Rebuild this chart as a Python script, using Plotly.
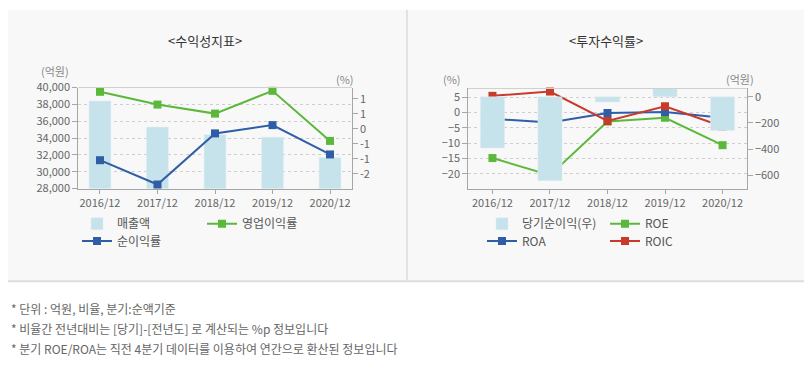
import plotly.graph_objects as go

# The page body has an 8px margin, so the figure is 8px smaller each way
# and every reference pixel position is shifted by 8.
OFF = 8
W, H = 812 - OFF, 381 - OFF
FONT = "Noto Sans CJK KR"

# ---------------- data ----------------
years = ["2016/12", "2017/12", "2018/12", "2019/12", "2020/12"]

# left chart: 수익성지표
sales = [38400, 35300, 34400, 34100, 31700]          # 매출액 (억원)
op_margin = [1.48, 0.97, 0.61, 1.52, -0.48]          # 영업이익률 (%)
net_margin = [-1.25, -2.22, -0.18, 0.15, -1.02]      # 순이익률 (%)

left_y_ticks = [28000, 30000, 32000, 34000, 36000, 38000, 40000]
left_y2_ticks = [1.2, 0.6, 0, -0.6, -1.2, -1.8]
left_y2_text = ["1", "1", "0", "-1", "-1", "-2"]

# right chart: 투자수익률
net_income = [-392, -641, -40, 90, -258]             # 당기순이익(우) (억원)
roe = [-14.9, -20.5, -3.0, -1.75, -10.7]
roa = [-2.1, -3.3, -0.2, 0.1, -1.75]
roic = [5.4, 6.8, -2.8, 2.0, -4.6]

right_y_ticks = [-20, -15, -10, -5, 0, 5]
right_y2_ticks = [0, -200, -400, -600]

notes = [
    "* 단위 : 억원, 비율, 분기:순액기준",
    "* 비율간 전년대비는 [당기]-[전년도] 로 계산되는 %p 정보입니다",
    "* 분기 ROE/ROA는 직전 4분기 데이터를 이용하여 연간으로 환산된 정보입니다",
]

# ---------------- styles ----------------
BAR = "#c6e2ea"
GREEN = "#5cb83a"
BLUE = "#2f5ea6"
RED = "#c83a2a"
TICK = "#666666"
AX = "#a6a6a6"


def px(x):
    return (x - OFF) / W


def py(y):
    return 1 - (y - OFF) / H


fig = go.Figure()

# left chart traces
fig.add_trace(go.Bar(x=years, y=sales, marker_color=BAR, width=0.38, name="매출액",
                     xaxis="x", yaxis="y", legend="legend"))
fig.add_trace(go.Scatter(x=years, y=op_margin, mode="lines+markers", name="영업이익률",
                         line=dict(color=GREEN, width=2), marker=dict(symbol="square", size=8, color=GREEN),
                         xaxis="x", yaxis="y2", legend="legend2", cliponaxis=False))
fig.add_trace(go.Scatter(x=years, y=net_margin, mode="lines+markers", name="순이익률",
                         line=dict(color=BLUE, width=2), marker=dict(symbol="square", size=8, color=BLUE),
                         xaxis="x", yaxis="y2", legend="legend3", cliponaxis=False))

# right chart traces
fig.add_trace(go.Bar(x=years, y=net_income, marker_color=BAR, width=0.42, name="당기순이익(우)",
                     xaxis="x2", yaxis="y4", legend="legend4"))
fig.add_trace(go.Scatter(x=years, y=roe, mode="lines+markers", name="ROE",
                         line=dict(color=GREEN, width=2), marker=dict(symbol="square", size=8, color=GREEN),
                         xaxis="x2", yaxis="y3", legend="legend5", cliponaxis=False))
fig.add_trace(go.Scatter(x=years, y=roa, mode="lines+markers", name="ROA",
                         line=dict(color=BLUE, width=2), marker=dict(symbol="square", size=8, color=BLUE),
                         xaxis="x2", yaxis="y3", legend="legend6", cliponaxis=False))
fig.add_trace(go.Scatter(x=years, y=roic, mode="lines+markers", name="ROIC",
                         line=dict(color=RED, width=2), marker=dict(symbol="square", size=8, color=RED),
                         xaxis="x2", yaxis="y3", legend="legend7", cliponaxis=False))

tickfont = dict(family=FONT, size=11, color=TICK)

xcommon = dict(type="category", showline=True, linecolor=AX, linewidth=1, ticks="outside",
               ticklen=4, tickcolor=AX, tickfont=tickfont, showgrid=False, zeroline=False,
               fixedrange=True)

ycommon = dict(showline=True, linecolor=AX, linewidth=1, ticks="outside", ticklen=5,
               tickcolor=AX, tickfont=tickfont, zeroline=False, fixedrange=True)

L_DOM_X = [px(78.3), px(351.7)]
L_DOM_Y = [py(187.2), py(81.7)]
R_DOM_X = [px(468.3), px(746.7)]
R_DOM_Y = [py(187.7), py(82.7)]

legend_base = dict(bgcolor="rgba(0,0,0,0)", borderwidth=0, font=dict(family=FONT, size=12, color="#555555"),
                   xanchor="left", yanchor="middle", orientation="h", itemclick=False, itemdoubleclick=False)


def leg(text_x, y):
    d = dict(legend_base)
    d.update(x=px(text_x - 40), y=py(y))
    return d


fig.update_layout(
    width=W, height=H, autosize=False,
    margin=dict(l=0, r=0, t=0, b=0),
    paper_bgcolor="white", plot_bgcolor="white",
    barmode="overlay",
    xaxis=dict(xcommon, domain=L_DOM_X, anchor="y", range=[-0.377, 4.377]),
    yaxis=dict(ycommon, domain=L_DOM_Y, anchor="x", range=[28000, 40000], tickvals=left_y_ticks,
               tickformat=",", showgrid=True, gridcolor="#cfcfcf", griddash="dot", gridwidth=1),
    yaxis2=dict(ycommon, overlaying="y", side="right", anchor="x", range=[-2.38, 1.65],
                tickvals=left_y2_ticks, ticktext=left_y2_text, showgrid=False),
    xaxis2=dict(xcommon, domain=R_DOM_X, anchor="y3", range=[-0.42, 4.42]),
    yaxis3=dict(ycommon, domain=R_DOM_Y, anchor="x2", range=[-25, 7.8], tickvals=right_y_ticks,
                showgrid=True, gridcolor="#cfcfcf", griddash="dot", gridwidth=1),
    yaxis4=dict(ycommon, overlaying="y3", side="right", anchor="x2", range=[-705, 64],
                tickvals=right_y2_ticks, showgrid=False),
    legend=leg(117, 224),
    legend2=leg(242, 224),
    legend3=leg(117, 242),
    legend4=leg(522, 224),
    legend5=leg(645, 224),
    legend6=leg(522, 242),
    legend7=leg(645, 242),
    showlegend=True,
)

shapes = [
    # panel background
    dict(type="rect", xref="paper", yref="paper", x0=-0.02, x1=1.02, y0=py(284), y1=1.02,
         fillcolor="#f8f8f8", line=dict(width=0), layer="below"),
    dict(type="line", xref="paper", yref="paper", x0=-0.02, x1=1.02, y0=py(284), y1=py(284),
         line=dict(color="#dedede", width=2)),
    dict(type="line", xref="paper", yref="paper", x0=px(407), x1=px(407), y0=py(284), y1=1.02,
         line=dict(color="#e2e2e2", width=2)),
    # top frame lines of plot areas
    dict(type="line", xref="paper", yref="paper", x0=L_DOM_X[0], x1=L_DOM_X[1], y0=L_DOM_Y[1], y1=L_DOM_Y[1],
         line=dict(color="#d0d0d0", width=1)),
    dict(type="line", xref="paper", yref="paper", x0=R_DOM_X[0], x1=R_DOM_X[1], y0=R_DOM_Y[1], y1=R_DOM_Y[1],
         line=dict(color="#d0d0d0", width=1)),
]

ann = []


def text(x, y, s, size=11, color=TICK, xanchor="center"):
    ann.append(dict(x=px(x), y=py(y), xref="paper", yref="paper", text=s, showarrow=False,
                    xanchor=xanchor, yanchor="middle", font=dict(family=FONT, size=size, color=color)))


text(205, 33, "&lt;수익성지표&gt;", size=13, color="#333333")
text(606, 33, "&lt;투자수익률&gt;", size=13, color="#333333")
text(55, 64, "(억원)", size=11, color="#888888")
text(345, 73, "(%)", size=11, color="#888888")
text(452, 73, "(%)", size=11, color="#888888")
text(740, 73, "(억원)", size=11, color="#888888")
for i, s in enumerate(notes):
    text(9, 313 + i * 20.5, s, size=12, color="#666666", xanchor="left")

fig.update_layout(shapes=shapes, annotations=ann)

fig.write_html("out.html")
